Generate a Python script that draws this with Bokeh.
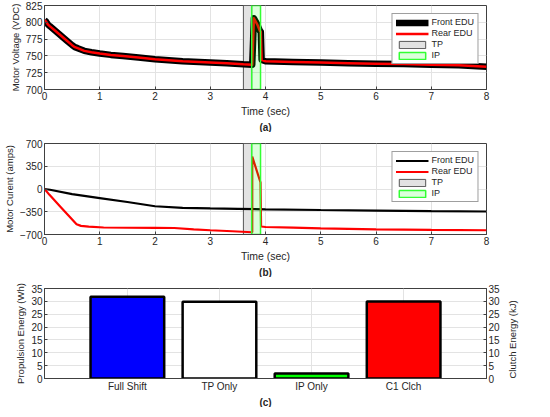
import math
from bokeh.plotting import figure
from bokeh.models import (Range1d, LinearAxis, FactorRange, Title, Legend, LegendItem,
                          FixedTicker, ColumnDataSource)
from bokeh.layouts import column
from bokeh.embed import file_html
from bokeh.resources import INLINE

# ---------------- data ----------------
time_v = [0.0, 0.03, 0.06, 0.1, 0.2, 0.3, 0.4, 0.5, 0.55, 0.6, 0.72, 0.85, 1.0, 1.2, 1.42,
          1.7, 2.0, 2.5, 3.0, 3.3, 3.6, 3.76, 3.79, 3.85, 3.9, 3.915, 3.93, 4.0, 4.5, 5.0,
          5.5, 6.0, 6.5, 7.0, 7.5, 8.0]
volt_front = [803, 801, 797, 794, 787, 780, 773, 766, 763, 761.5, 757.5, 755.5, 753.5, 751.5,
              750, 747.5, 745, 742, 740, 739, 737.5, 737, 806, 797, 787, 786, 744, 742, 741,
              740, 739, 738.5, 738, 737, 736, 734]
volt_rear = list(volt_front)

time_if = [0, 0.1, 0.5, 1.0, 1.5, 2.0, 2.5, 3.0, 3.5, 4.0, 5.0, 6.0, 7.0, 8.0]
amp_front = [0, -12, -80, -140, -200, -265, -290, -299, -306, -313, -323, -332, -340, -346]

time_ir = [0, 0.09, 0.3, 0.58, 0.66, 0.8, 1.07, 1.5, 2.0, 2.35, 2.7, 3.0, 3.4, 3.76, 3.76,
           3.91, 3.92, 4.0, 4.5, 5.0, 6.0, 7.0, 8.0]
amp_rear = [0, -90, -283, -541, -567, -580, -592, -596, -598, -600, -620, -635, -650, -665,
            500, 100, -577, -585, -595, -605, -620, -630, -635]

tp_window = [3.6, 3.75]
ip_window = [3.75, 3.91]

volt_lim = [700, 825]
volt_ticks = [700, 725, 750, 775, 800, 825]
amp_lim = [-700, 700]
amp_ticks = [-700, -350, 0, 350, 700]
time_ticks = [0, 1, 2, 3, 4, 5, 6, 7, 8]

cases = ["Full Shift", "TP Only", "IP Only", "C1 Clch"]
energy = [31.8, 29.8, 1.9, 29.9]
bar_colors = ["#0000ff", "#ffffff", "#00ff00", "#ff0000"]
energy_lim = [0, 35]
energy_ticks = [0, 5, 10, 15, 20, 25, 30, 35]

# ---------------- styling helpers ----------------
FONT = "Liberation Sans"
TXT = "#262626"
W = 534


def style(p):
    p.outline_line_color = "#404040"
    p.outline_line_width = 1
    p.background_fill_color = "white"
    p.border_fill_color = "white"
    for ax in p.axis:
        ax.axis_line_color = "#404040"
        ax.major_tick_in = 3
        ax.major_tick_out = 0
        ax.minor_tick_line_color = None
        ax.major_tick_line_color = "#404040"
        ax.major_label_text_font = FONT
        ax.major_label_text_font_size = "10px"
        ax.major_label_text_color = TXT
        ax.axis_label_text_font = FONT
        ax.axis_label_text_font_size = "10.5px"
        ax.axis_label_text_font_style = "normal"
        ax.axis_label_text_color = TXT
        ax.major_label_standoff = 2
        ax.axis_label_standoff = 2
    for ax in p.yaxis:
        ax.axis_label_text_font_size = "9.5px"
    for g in p.grid:
        g.grid_line_color = "#e3e3e3"
        g.grid_line_width = 1


def add_caption(p, text):
    t = Title(text=text, align="center", text_font=FONT, text_font_size="10px",
              text_font_style="bold", text_color=TXT, standoff=0, offset=0)
    p.add_layout(t, "below")


def style_legend(leg):
    leg.location = "top_right"
    leg.margin = 8
    leg.padding = 3
    leg.spacing = 1
    leg.label_text_font = FONT
    leg.label_text_font_size = "9px"
    leg.label_text_color = TXT
    leg.label_height = 9
    leg.label_standoff = 3
    leg.glyph_width = 33
    leg.glyph_height = 9
    leg.border_line_color = "#404040"
    leg.border_line_width = 1
    leg.background_fill_alpha = 1.0


# ---------------- panel (a) ----------------
pa = figure(width=W, height=132, output_backend="svg", toolbar_location=None,
            x_range=Range1d(0, 8), y_range=Range1d(*volt_lim),
            min_border_left=36, min_border_right=48, min_border_top=5, min_border_bottom=38)
tp_a = pa.quad(left=[tp_window[0]], right=[tp_window[1]], bottom=[volt_lim[0]], top=[volt_lim[1]],
               fill_color="#e2e2e2", line_color="#555555", line_width=1)
fa = pa.line(time_v, volt_front, line_color="black", line_width=6.5, line_join="round")
ra = pa.line(time_v, volt_rear, line_color="#ff0000", line_width=2.5, line_join="round")
ip_a = pa.quad(left=[ip_window[0]], right=[ip_window[1]], bottom=[volt_lim[0]], top=[volt_lim[1]],
               fill_color="#00ff00", fill_alpha=0.14, line_color="#33ff33", line_width=1.5)
pa.xaxis.ticker = FixedTicker(ticks=time_ticks)
pa.yaxis.ticker = FixedTicker(ticks=volt_ticks)
pa.xaxis.axis_label = "Time (sec)"
pa.yaxis.axis_label = "Motor Voltage (VDC)"
style(pa)
leg_a = Legend(items=[LegendItem(label="Front EDU", renderers=[fa]),
                      LegendItem(label="Rear EDU", renderers=[ra]),
                      LegendItem(label="TP", renderers=[tp_a]),
                      LegendItem(label="IP", renderers=[ip_a])])
style_legend(leg_a)
pa.add_layout(leg_a, "center")
add_caption(pa, "(a)")

# ---------------- panel (b) ----------------
pb = figure(width=W, height=145, output_backend="svg", toolbar_location=None,
            x_range=Range1d(0, 8), y_range=Range1d(*amp_lim),
            min_border_left=36, min_border_right=48, min_border_top=11, min_border_bottom=38)
tp_b = pb.quad(left=[tp_window[0]], right=[tp_window[1]], bottom=[amp_lim[0]], top=[amp_lim[1]],
               fill_color="#e2e2e2", line_color="#555555", line_width=1)
fb = pb.line(time_if, amp_front, line_color="black", line_width=2.2)
rb = pb.line(time_ir, amp_rear, line_color="#ff0000", line_width=2.2)
ip_b = pb.quad(left=[ip_window[0]], right=[ip_window[1]], bottom=[amp_lim[0]], top=[amp_lim[1]],
               fill_color="#00ff00", fill_alpha=0.14, line_color="#33ff33", line_width=1.5)
pb.xaxis.ticker = FixedTicker(ticks=time_ticks)
pb.yaxis.ticker = FixedTicker(ticks=amp_ticks)
pb.xaxis.axis_label = "Time (sec)"
pb.yaxis.axis_label = "Motor Curent (amps)"
style(pb)
leg_b = Legend(items=[LegendItem(label="Front EDU", renderers=[fb]),
                      LegendItem(label="Rear EDU", renderers=[rb]),
                      LegendItem(label="TP", renderers=[tp_b]),
                      LegendItem(label="IP", renderers=[ip_b])])
style_legend(leg_b)
pb.add_layout(leg_b, "center")
add_caption(pb, "(b)")

# ---------------- panel (c) ----------------
src = ColumnDataSource(dict(case=cases, energy=energy, color=bar_colors))
pc = figure(width=W, height=130, output_backend="svg", toolbar_location=None,
            x_range=FactorRange(factors=cases, range_padding=0.2, range_padding_units="percent"),
            y_range=Range1d(*energy_lim),
            min_border_left=36, min_border_right=48, min_border_top=11, min_border_bottom=26)
pc.extra_y_ranges = {"kj": Range1d(*energy_lim)}
pc.vbar(x="case", top="energy", width=0.8, source=src, fill_color="color",
        line_color="black", line_width=2.5)
pc.yaxis.ticker = FixedTicker(ticks=energy_ticks)
pc.yaxis.axis_label = "Propulsion Energy (Wh)"
right = LinearAxis(y_range_name="kj", axis_label="Clutch Energy (kJ)",
                   ticker=FixedTicker(ticks=energy_ticks))
pc.add_layout(right, "right")
style(pc)
right.axis_label_standoff = 10
right.axis_label_orientation = math.pi / 2
right.axis_label_align = "start"
pc.xaxis.major_tick_line_color = None
add_caption(pc, "(c)")

layout = column(pa, pb, pc, spacing=0)
open("out.html", "w").write(file_html(layout, INLINE))
